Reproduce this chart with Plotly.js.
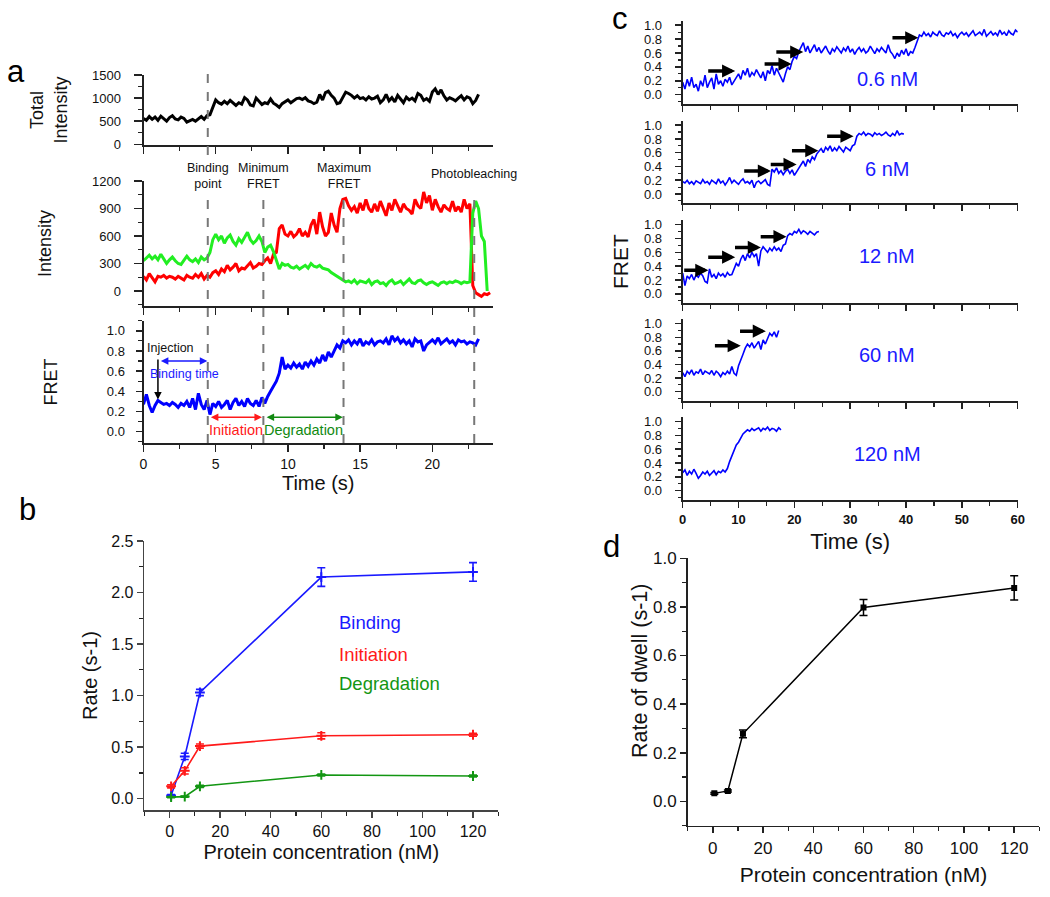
<!DOCTYPE html>
<html><head><meta charset="utf-8">
<script src="https://cdn.plot.ly/plotly-3.0.1.min.js"></script>
<style>html,body{margin:0;padding:0;background:#fff}#chart{width:1050px;height:897px}</style>
</head><body><div id="chart"></div>
<script>
// ---------- Panel a : single-molecule trace (sampled every 0.2 s) ----------
const traceStep = 0.2;
const totalIntensity = [560,520,600,540,590,520,610,560,500,580,620,550,530,590,560,480,510,540,500,560,600,540,620,
  640,820,960,
  900,870,930,880,950,900,840,900,870,1010,960,850,830,1000,920,860,900,880,980,890,
  850,800,880,920,960,900,950,990,1000,970,1010,940,920,880,910,
  1080,960,1120,1150,1060,1000,880,900,1020,1130,
  1100,1060,1000,1050,990,1010,960,1030,980,1000,1040,900,960,1080,940,1010,920,1060,980,900,1020,960,1000,940,1100,1060,950,990,930,1130,1200,1080,1180,1050,960,1010,980,940,1000,1050,960,1030,1000,880,950,1080];
const donorIntensity = [330,360,390,350,380,340,400,350,300,340,370,330,300,290,330,380,340,320,350,310,370,340,360,
  420,560,620,
  560,600,520,580,610,540,500,570,530,580,640,560,520,550,600,540,
  420,480,500,430,330,
  240,300,280,290,260,250,270,240,260,280,250,300,270,260,280,250,240,230,200,
  180,160,140,120,100,110,
  90,120,80,110,100,90,120,70,100,110,80,90,60,100,120,80,90,110,70,100,130,90,80,110,120,90,70,90,100,80,60,90,100,80,100,90,110,100,80,100,90,100,
  850,980,900,600,540,0];
const acceptorIntensity = [160,120,190,140,100,160,150,170,140,160,150,130,160,140,120,170,150,140,180,150,190,130,170,
  150,200,220,180,240,210,280,230,260,300,220,250,240,280,310,250,270,300,290,
  330,360,300,400,420,
  680,720,620,600,650,590,620,680,600,640,590,720,780,620,860,700,
  600,640,850,720,640,
  900,1000,1010,930,880,
  920,850,960,880,1000,900,860,950,870,980,900,820,960,880,1000,920,860,950,900,880,840,1000,930,900,1080,960,1040,880,1000,920,860,940,900,880,980,870,920,860,1000,900,950,
  60,-20,-40,-60,-30,-40,-20];
const fretTrace = [0.27,0.37,0.26,0.19,0.26,0.31,0.29,0.27,0.28,0.26,0.29,0.27,0.24,0.28,0.26,0.30,0.24,0.33,0.22,0.38,0.27,0.22,0.31,
  0.17,0.28,0.25,0.30,0.24,0.27,0.31,0.22,0.29,0.33,0.26,0.30,0.25,0.33,0.28,0.26,0.31,0.25,0.34,
  0.28,0.35,0.40,0.45,0.50,0.58,0.74,0.62,0.66,
  0.63,0.68,0.64,0.67,0.62,0.69,0.65,0.70,0.66,0.72,0.68,0.76,0.70,0.79,0.74,
  0.80,0.86,0.83,0.90,0.88,
  0.91,0.86,0.90,0.87,0.92,0.85,0.89,0.87,0.91,0.86,0.89,0.90,0.88,0.92,0.86,0.95,0.90,0.93,0.88,0.91,0.87,0.90,0.84,0.92,0.89,0.90,0.80,0.86,0.89,0.91,0.88,0.93,0.87,0.90,0.92,0.88,0.90,0.86,0.91,0.89,0.90,0.87,0.89,0.88,0.86,0.92];
const eventTimes = [4.45, 8.3, 13.85, 22.9];
const eventLabels = ['Binding<br>point', 'Minimum<br>FRET', 'Maximum<br>FRET', 'Photobleaching'];
const injectionTime = 1.0;
const intervals = [
  {name:'Binding time', from:1.1, to:4.42, level:0.70, color:'#1a1aff'},
  {name:'Initiation', from:4.56, to:8.2, level:0.143, color:'#ff1a1a'},
  {name:'Degradation', from:8.42, to:13.8, level:0.143, color:'#128a12'}
];

// ---------- Panel b : rates vs protein concentration ----------
const concentration = [0.6, 6, 12, 60, 120];
const bindingRate = [0.03, 0.41, 1.03, 2.15, 2.20];
const bindingErr  = [0.01, 0.03, 0.03, 0.09, 0.09];
const initiationRate = [0.12, 0.27, 0.51, 0.61, 0.62];
const initiationErr  = [0.015, 0.03, 0.02, 0.03, 0.015];
const degradationRate = [0.015, 0.02, 0.12, 0.23, 0.22];
const degradationErr  = [0.005, 0.005, 0.01, 0.01, 0.01];

// ---------- Panel c : FRET traces at different concentrations (sampled every 0.4 s) ----------
const cStep = 0.4;
const concLabels = ['0.6 nM', '6 nM', '12 nM', '60 nM', '120 nM'];
const fret06 = [0.18,0.08,0.22,0.12,0.25,0.10,0.15,0.05,0.20,0.12,0.28,0.10,0.18,0.24,0.08,0.30,0.15,0.20,0.12,0.22,0.18,0.25,0.14,0.20,0.24,
  0.30,0.22,0.35,0.28,0.38,0.25,0.32,0.28,0.36,0.30,0.24,0.33,0.20,0.35,0.30,0.42,0.28,0.38,0.32,0.25,
  0.18,0.30,0.40,0.36,0.48,
  0.55,0.52,0.62,0.68,0.75,
  0.62,0.70,0.60,0.66,0.72,0.62,0.68,0.60,0.65,0.70,0.63,0.58,0.66,0.62,0.69,0.64,0.60,0.67,0.63,0.70,0.61,0.66,0.58,0.64,0.68,0.62,0.66,0.60,0.63,0.70,0.65,0.59,0.66,0.62,0.68,0.64,0.60,0.72,0.62,0.58,0.52,0.60,0.55,0.64,0.58,0.66,0.56,0.62,0.60,0.68,
  0.78,0.86,0.84,0.90,0.85,0.88,0.83,0.90,0.87,0.85,0.92,0.86,0.84,0.89,0.87,0.91,0.85,0.88,0.82,0.87,0.90,0.86,0.89,0.84,0.88,0.92,0.85,0.87,0.90,0.86,0.94,0.84,0.88,0.91,0.86,0.89,0.85,0.93,0.87,0.90,0.85,0.92,0.88,0.86,0.93,0.90];
const fret6 = [0.18,0.16,0.20,0.15,0.18,0.14,0.19,0.17,0.15,0.21,0.16,0.18,0.14,0.20,0.17,0.15,0.22,0.16,0.19,0.13,0.18,0.24,0.16,0.20,0.17,0.14,0.19,0.22,0.16,0.18,0.15,0.20,0.09,0.17,0.19,0.15,0.18,0.21,0.14,0.12,
  0.36,0.32,0.38,0.30,0.34,0.28,0.33,0.36,0.30,0.35,0.27,0.32,0.38,
  0.42,0.48,0.40,0.50,0.46,0.54,0.50,0.58,
  0.62,0.66,0.60,0.68,0.64,0.70,0.62,0.67,0.63,0.69,0.65,0.61,0.68,0.66,0.63,0.70,0.72,
  0.84,0.88,0.86,0.90,0.85,0.88,0.87,0.84,0.89,0.86,0.88,0.85,0.87,0.90,0.86,0.84,0.88,0.85,0.92,0.86,0.88,0.87];
const fret12 = [0.30,0.12,0.26,0.22,0.28,0.20,0.27,0.24,0.30,0.26,0.18,0.16,
  0.36,0.24,0.28,0.22,0.30,0.26,0.29,0.24,0.31,0.27,0.28,
  0.36,0.44,0.40,0.50,0.56,0.48,0.58,0.52,0.60,
  0.54,0.58,0.40,
  0.62,0.68,0.64,0.60,0.66,0.62,0.68,0.63,0.66,0.61,0.70,0.72,
  0.84,0.87,0.85,0.90,0.88,0.93,0.87,0.91,0.89,0.86,0.90,0.88,0.85,0.89,0.90];
const fret60 = [0.28,0.22,0.30,0.26,0.32,0.24,0.29,0.27,0.33,0.25,0.30,0.28,0.26,0.31,0.24,0.30,0.27,0.22,0.28,0.25,0.30,0.26,0.37,0.27,
  0.24,0.38,0.48,0.55,0.64,0.70,
  0.66,0.72,0.64,0.70,0.74,0.62,0.76,0.70,0.78,
  0.86,0.82,0.88,0.80,0.90];
const fret120 = [0.26,0.30,0.22,0.28,0.24,0.31,0.25,0.18,0.22,0.27,0.24,0.28,0.22,0.26,0.29,0.23,0.28,0.26,
  0.30,0.27,0.32,
  0.42,0.50,0.58,0.66,0.70,0.76,0.82,
  0.85,0.88,0.86,0.90,0.87,0.89,0.91,0.86,0.90,0.88,0.92,0.87,0.90,0.89,0.86,0.91,0.88];
// step arrows: [start time, end time, FRET level] per concentration
const stepArrows = [
  [[4.3,9.4,0.34],[14.4,19.5,0.44],[16.5,21.6,0.615],[37.3,42.2,0.82]],
  [[10.75,15.8,0.335],[15.5,20.4,0.43],[19.3,24.3,0.63],[25.6,30.6,0.84]],
  [[0,4.6,0.34],[4.3,9.4,0.53],[9.1,14.0,0.67],[13.7,18.6,0.825]],
  [[5.5,10.4,0.675],[10.0,14.9,0.89]],
  []
];

// ---------- Panel d : rate of dwell ----------
const dwellRate = [0.033, 0.043, 0.278, 0.798, 0.878];
const dwellErr  = [0.004, 0.004, 0.016, 0.033, 0.05];

// ================= layout helpers =================
const W = 1050, H = 897;
const FONT = 'Arial, "Liberation Sans", sans-serif';
const xd = (l, r) => [l / W, r / W];
const yd = (top, bottom) => [1 - bottom / H, 1 - top / H];
const py = p => 1 - p / H;
const px = p => p / W;

function axis(o) {
  const base = {showgrid:false, zeroline:false, showline:true, linecolor:'#222', linewidth:2,
    ticks:'outside', tickcolor:'#222', tickwidth:1.5, ticklen:7, fixedrange:true,
    tickfont:{family:FONT, size:13, color:'#111'}};
  return Object.assign(base, o);
}
function minor(d, len) { return {dtick:d, tick0:0, ticks:'outside', ticklen:len || 4, tickcolor:'#222', tickwidth:1.2}; }

const data = [];
// panel a
data.push({type:'scatter', mode:'lines', x0:0, dx:traceStep, y:totalIntensity, xaxis:'x', yaxis:'y',
  line:{color:'#000', width:3}, hoverinfo:'skip'});
data.push({type:'scatter', mode:'lines', x0:0, dx:traceStep, y:acceptorIntensity, xaxis:'x2', yaxis:'y2',
  line:{color:'#ff0000', width:3}, hoverinfo:'skip'});
data.push({type:'scatter', mode:'lines', x0:0, dx:traceStep, y:donorIntensity, xaxis:'x2', yaxis:'y2',
  line:{color:'#22ee22', width:3}, hoverinfo:'skip'});
data.push({type:'scatter', mode:'lines', x0:0, dx:traceStep, y:fretTrace, xaxis:'x3', yaxis:'y3',
  line:{color:'#0000ff', width:3}, hoverinfo:'skip'});
// panel b
[[bindingRate, bindingErr, '#1a1aff'], [initiationRate, initiationErr, '#ff1a1a'], [degradationRate, degradationErr, '#139613']]
.forEach(([v, e, c]) => data.push({type:'scatter', mode:'lines+markers', x:concentration, y:v, xaxis:'x4', yaxis:'y4',
  line:{color:c, width:1.6}, marker:{symbol:'cross-thin', size:7, line:{color:c, width:2}, color:c},
  error_y:{type:'data', array:e, visible:true, color:c, thickness:1.6, width:4}, hoverinfo:'skip'}));
// panel c
[fret06, fret6, fret12, fret60, fret120].forEach((v, i) => data.push({type:'scatter', mode:'lines', x0:0, dx:cStep, y:v,
  xaxis:'x' + (5 + i), yaxis:'y' + (5 + i), line:{color:'#0000ff', width:1.6}, hoverinfo:'skip'}));
// panel d
data.push({type:'scatter', mode:'lines+markers', x:concentration, y:dwellRate, xaxis:'x10', yaxis:'y10',
  line:{color:'#000', width:1.5}, marker:{symbol:'square', size:6, color:'#000'},
  error_y:{type:'data', array:dwellErr, visible:true, color:'#000', thickness:1.5, width:4}, hoverinfo:'skip'});

const layout = {
  width:W, height:H, margin:{l:0, r:0, t:0, b:0}, paper_bgcolor:'#fff', plot_bgcolor:'rgba(0,0,0,0)',
  showlegend:false, font:{family:FONT, color:'#111'},
  // panel a
  xaxis: axis({domain:xd(143.5,493), range:[0,24.2], dtick:5, tick0:0, showticklabels:false, anchor:'y', minor:minor(2.5)}),
  yaxis: axis({domain:yd(75,145), range:[-15,1500], dtick:500, tick0:0, anchor:'x', ticklen:8, ticklabelstandoff:10,
    minor:minor(250), title:{text:'Total<br>Intensity', font:{size:18}, standoff:20}}),
  xaxis2: axis({domain:xd(143.5,493), range:[0,24.2], dtick:5, tick0:0, showticklabels:false, anchor:'y2', minor:minor(2.5)}),
  yaxis2: axis({domain:yd(181,306), range:[-164,1200], dtick:300, tick0:0, anchor:'x2', ticklen:8, ticklabelstandoff:10,
    minor:minor(150), title:{text:'Intensity', font:{size:18}, standoff:36}}),
  xaxis3: axis({domain:xd(143.5,493), range:[0,24.2], dtick:5, tick0:0, anchor:'y3', minor:minor(2.5),
    tickfont:{family:FONT, size:14, color:'#111'}, title:{text:'Time (s)', font:{size:20}, standoff:2}}),
  yaxis3: axis({domain:yd(320.7,443.3), range:[-0.115,1.1], dtick:0.2, tick0:0, tickformat:'.1f', anchor:'x3', ticklen:6,
    ticklabelstandoff:8, minor:minor(0.1), title:{text:'FRET', font:{size:18}, standoff:45}}),
  // panel b
  xaxis4: axis({domain:xd(144.3,498.3), range:[-10,130], dtick:20, tick0:0, anchor:'y4', linewidth:1.6, linecolor:'#444',
    tickcolor:'#444', ticklen:6, minor:minor(10), tickfont:{family:FONT, size:16, color:'#111'},
    title:{text:'Protein concentration (nM)', font:{size:20}, standoff:6}}),
  yaxis4: axis({domain:yd(541,810), range:[-0.11,2.5], dtick:0.5, tick0:0, tickformat:'.1f', anchor:'x4', linewidth:1.6,
    linecolor:'#444', tickcolor:'#444', ticklen:6, minor:minor(0.25), tickfont:{family:FONT, size:16, color:'#111'},
    title:{text:'Rate (s-1)', font:{size:20}, standoff:8}}),
  // panel d (y title drawn as a rotated annotation so it sits where the reference has it)
  xaxis10: axis({domain:xd(687.7,1039.3), range:[-10,130], dtick:20, tick0:0, anchor:'y10', linewidth:1.6, ticklen:6,
    minor:minor(10), tickfont:{family:FONT, size:17, color:'#111'},
    title:{text:'Protein concentration (nM)', font:{size:21}, standoff:10}}),
  yaxis10: axis({domain:yd(558.3,825.7), range:[-0.1,1.0], dtick:0.2, tick0:0, tickformat:'.1f', anchor:'x10', linewidth:1.6,
    ticklen:6, minor:minor(0.1), tickfont:{family:FONT, size:17, color:'#111'}}),
  shapes:[], annotations:[]
};
// panel c axes
const cTops = [[20.7,104],[120.7,203.3],[220,303.3],[319.3,400.7],[417,500]];
cTops.forEach((tb, i) => {
  const n = 5 + i, last = i === 4;
  layout['xaxis' + n] = axis({domain:xd(682.7,1017.7), range:[0,60], dtick:10, tick0:0, anchor:'y' + n, ticklen:6,
    minor:minor(5), showticklabels:last, tickfont:{family:FONT, size:13, color:'#111', weight:'bold'},
    title: last ? {text:'Time (s)', font:{size:22}, standoff:8} : {text:''}});
  layout['yaxis' + n] = axis({domain:yd(tb[0], tb[1]), range:[-0.135,1.065], dtick:0.2, tick0:0, tickformat:'.1f',
    anchor:'x' + n, ticklen:6, ticklabelstandoff:10, minor:minor(0.1, 3), tickfont:{family:FONT, size:13, color:'#111'},
    title: i === 2 ? {text:'FRET', font:{size:21}, standoff:10} : {text:''}});
});

// dashed event lines (panel a)
const dash = {color:'#777', width:2, dash:'dash'};
eventTimes.forEach((t, i) => {
  layout.shapes.push({type:'line', xref:'x3', yref:'paper', x0:t, x1:t, y0:py(443), y1:py(191), line:dash});
  if (i === 0) layout.shapes.push({type:'line', xref:'x3', yref:'paper', x0:t, x1:t, y0:py(155), y1:py(68), line:dash});
  layout.annotations.push({xref:'x3', yref:'paper', x:t, y:py(i === 3 ? 174 : 176), text:eventLabels[i], showarrow:false,
    font:{size:12.5, color:'#111'}, xanchor:'center', yanchor:'middle'});
});
// injection arrow + label
layout.annotations.push({xref:'x3', yref:'y3', x:injectionTime, y:0.32, ax:injectionTime, ay:0.73, axref:'x3', ayref:'y3',
  text:'', showarrow:true, arrowhead:2, arrowsize:1, arrowwidth:1.5, arrowcolor:'#000', standoff:0});
layout.annotations.push({xref:'x3', yref:'y3', x:1.85, y:0.83, text:'Injection', showarrow:false, font:{size:12.5, color:'#111'}});
// interval arrows
intervals.forEach((iv, k) => {
  layout.annotations.push({xref:'x3', yref:'y3', x:iv.to, y:iv.level, ax:iv.from, ay:iv.level, axref:'x3', ayref:'y3',
    text:'', showarrow:true, arrowhead:2, startarrowhead:2, arrowside:'end+start', arrowsize:1, arrowwidth:1.5,
    arrowcolor:iv.color, standoff:0, startstandoff:0});
  layout.annotations.push({xref:'x3', yref:'y3', x:(iv.from + iv.to) / 2 + (k === 0 ? 0.1 : 0), y:k === 0 ? 0.574 : 0.017,
    text:iv.name, showarrow:false, font:{size:k === 0 ? 12.5 : 14.5, color:iv.color}});
});
// panel b legend texts
[['Binding','#1a1aff',1.705],['Initiation','#ff1a1a',1.40],['Degradation','#139613',1.12]].forEach(([t, c, y]) =>
  layout.annotations.push({xref:'x4', yref:'y4', x:66.3, y:y, text:t, showarrow:false, xanchor:'left',
    font:{size:18.5, color:c}}));
// panel c labels & step arrows
const labelLevels = [0.22, 0.365, 0.54, 0.545, 0.527];
concLabels.forEach((t, i) => {
  const n = 5 + i;
  layout.annotations.push({xref:'x' + n, yref:'y' + n, x:36.6, y:labelLevels[i], text:t, showarrow:false,
    font:{size:20, color:'#1a1aff'}});
  stepArrows[i].forEach(([a, b, lv]) => layout.annotations.push({xref:'x' + n, yref:'y' + n, x:b, y:lv, ax:a, ay:lv,
    axref:'x' + n, ayref:'y' + n, text:'', showarrow:true, arrowhead:2, arrowsize:0.75, arrowwidth:3.5,
    arrowcolor:'#000', standoff:0}));
});
// panel d y-axis title
layout.annotations.push({xref:'paper', yref:'paper', x:px(640), y:py(671), text:'Rate of dwell (s-1)', textangle:-90,
  showarrow:false, xanchor:'center', yanchor:'middle', font:{size:21.5, color:'#111'}});
// panel letters
[['a',16,72],['b',27,510],['c',620,19],['d',611,546]].forEach(([t, x, y]) =>
  layout.annotations.push({xref:'paper', yref:'paper', x:px(x), y:py(y), text:t, showarrow:false,
    xanchor:'center', yanchor:'middle', font:{size:31, color:'#000'}}));

Plotly.newPlot('chart', data, layout, {staticPlot:true, displayModeBar:false});
</script></body></html>
